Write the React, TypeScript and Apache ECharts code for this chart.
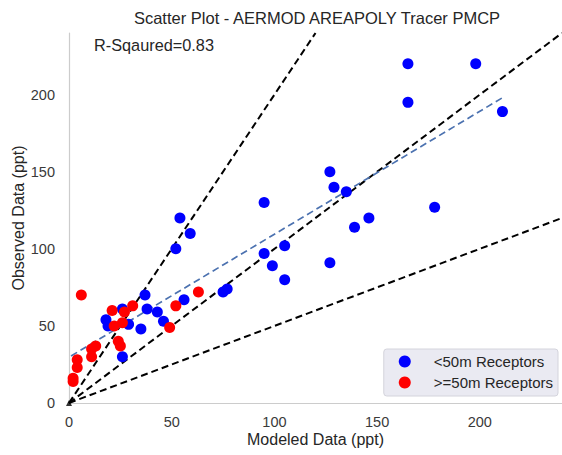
import React, { useEffect, useRef } from "react";
import * as echarts from "echarts";

const blueX = [165, 198, 165, 211, 127, 129, 135, 178, 146, 139, 105, 127, 105, 95, 54, 59, 52, 95, 99, 77, 75, 56, 43, 37, 26, 38, 18, 46, 19, 29, 35, 26];
const blueY = [220, 220, 195, 189, 150, 140, 137, 127, 120, 114, 102, 91, 80, 130, 120, 110, 100, 97, 89, 74, 72, 67, 59, 70, 61, 61, 54, 53, 50, 51, 48, 30];
const redX = [6, 21, 27, 31, 52, 63, 26, 22, 49, 24, 25, 11, 13, 11, 4, 4, 2, 2];
const redY = [70, 60, 59, 63, 63, 72, 52, 50, 49, 40, 37, 35, 37, 30, 28, 23, 16, 14];
const fitX = [1, 211];
const fitY = [30.5, 198];
const ratioSlopes = [1, 2, 0.5];
const axisMax = 240;
const tickStep = 50;
const seriesNames = ["<50m Receptors", ">=50m Receptors"];
const titleText = "Scatter Plot - AERMOD AREAPOLY Tracer PMCP";
const rSquaredText = "R-Sqaured=0.83";

const FONT = "'Liberation Sans', Arial, sans-serif";
const TXT = "#262626";

export default function App() {
  const ref = useRef<HTMLDivElement>(null);
  useEffect(() => {
    document.body.style.margin = "0";
    const chart = echarts.init(ref.current!, null, { renderer: "svg" });
    const ratioSeries = ratioSlopes.map((s) => {
      const x2 = Math.min(axisMax, axisMax / s);
      return {
        type: "line",
        data: [
          [0, 0],
          [x2, x2 * s],
        ],
        symbol: "none",
        silent: true,
        lineStyle: { color: "#000", width: 2, type: [7, 4] },
        z: 1,
      };
    });
    chart.setOption({
      animation: false,
      backgroundColor: "#fff",
      textStyle: { fontFamily: FONT },
      grid: { left: 69, right: 0, top: 33, bottom: 52, containLabel: false, outerBoundsMode: "none" },
      graphic: [
        {
          type: "text",
          x: 317,
          y: 18,
          style: {
            text: titleText,
            fill: TXT,
            font: `16.5px ${FONT}`,
            textAlign: "center",
            textVerticalAlign: "middle",
          },
        },
        {
          type: "text",
          x: 94,
          y: 45,
          style: {
            text: rSquaredText,
            fill: TXT,
            font: `16.3px ${FONT}`,
            textAlign: "left",
            textVerticalAlign: "middle",
          },
        },
      ],
      xAxis: {
        type: "value",
        min: 0,
        max: axisMax,
        interval: tickStep,
        name: "Modeled Data (ppt)",
        nameLocation: "middle",
        nameGap: 28,
        nameMoveOverlap: false,
        nameTextStyle: { color: TXT, fontSize: 16, fontFamily: FONT },
        splitLine: { show: false },
        axisTick: { show: false },
        axisLine: { show: true, lineStyle: { color: "#cccccc", width: 1.2 } },
        axisLabel: {
          color: "#3a3a3a",
          fontSize: 14.5,
          margin: 11,
          fontFamily: FONT,
          formatter: (v: number) => (v % tickStep === 0 ? String(v) : ""),
        },
      },
      yAxis: {
        type: "value",
        min: 0,
        max: axisMax,
        interval: tickStep,
        name: "Observed Data (ppt)",
        nameLocation: "middle",
        nameGap: 43,
        nameMoveOverlap: false,
        nameTextStyle: { color: TXT, fontSize: 16, fontFamily: FONT },
        splitLine: { show: false },
        axisTick: { show: false },
        axisLine: { show: true, lineStyle: { color: "#cccccc", width: 1.2 } },
        axisLabel: {
          color: "#3a3a3a",
          fontSize: 14.5,
          margin: 14,
          fontFamily: FONT,
          formatter: (v: number) => (v % tickStep === 0 ? String(v) : ""),
        },
      },
      legend: {
        data: seriesNames,
        right: 4,
        bottom: 59,
        orient: "vertical",
        icon: "circle",
        itemWidth: 12,
        itemHeight: 12,
        itemGap: 6,
        padding: [5, 5, 6, 15],
        backgroundColor: "#eaeaf2",
        borderColor: "#d4d4dc",
        borderWidth: 1,
        borderRadius: 3,
        textStyle: { color: TXT, fontSize: 15, fontFamily: FONT, padding: [0, 0, 0, 18] },
      },
      series: [
        ...ratioSeries,
        {
          type: "line",
          data: fitX.map((x, i) => [x, fitY[i]]),
          symbol: "none",
          silent: true,
          lineStyle: { color: "#4c72b0", width: 1.7, type: [7, 4] },
          z: 2,
        },
        {
          type: "scatter",
          data: [[0, 0]],
          symbol: "triangle",
          symbolSize: 6,
          itemStyle: { color: "#000" },
          clip: false,
          silent: true,
          z: 2,
        },
        {
          name: seriesNames[0],
          type: "scatter",
          data: blueX.map((x, i) => [x, blueY[i]]),
          symbolSize: 11,
          itemStyle: { color: "#0000ff", opacity: 1 },
          clip: false,
          z: 3,
        },
        {
          name: seriesNames[1],
          type: "scatter",
          data: redX.map((x, i) => [x, redY[i]]),
          symbolSize: 11,
          itemStyle: { color: "#ff0000", opacity: 1 },
          clip: false,
          z: 4,
        },
      ],
    });
    return () => chart.dispose();
  }, []);
  return <div ref={ref} style={{ width: 562, height: 455 }} />;
}
